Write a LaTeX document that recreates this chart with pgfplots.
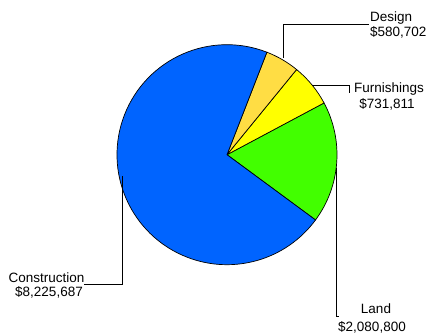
\documentclass[border=0pt]{standalone}
\usepackage{pgfplots}
\pgfplotsset{compat=1.18}
\usepackage{fontspec}
\setmainfont{Liberation Sans}
\definecolor{cConstr}{RGB}{0,100,255}
\definecolor{cLand}{RGB}{66,255,0}
\definecolor{cFurn}{RGB}{255,255,0}
\definecolor{cDesign}{RGB}{255,221,68}
% values
\def\vConstr{8225687}
\def\vLand{2080800}
\def\vFurn{731811}
\def\vDesign{580702}
\edef\vTotal{\fpeval{\vConstr+\vLand+\vFurn+\vDesign}}
\def\aStart{-36.4}
\edef\aA{\fpeval{\aStart+\vLand/\vTotal*360}}
\edef\aB{\fpeval{\aA+\vFurn/\vTotal*360}}
\edef\aC{\fpeval{\aB+\vDesign/\vTotal*360}}
\edef\aD{\fpeval{\aC+\vConstr/\vTotal*360}}
\def\cx{227}
\def\cy{180.3}
\def\R{110}
\newcommand{\pieWedge}[3]{% start, end, colour
  \draw[line width=0.7bp, fill=#3] (axis cs:\cx,\cy) -- (axis cs:{\cx+\R*cos(#1)},{\cy+\R*sin(#1)})
    arc[start angle=#1, end angle=#2, radius=\R bp] -- cycle;}
\begin{document}
\begin{tikzpicture}
\begin{axis}[x=1bp, y=1bp, xmin=0, xmax=428, ymin=0, ymax=335,
  hide axis, clip=false, scale only axis]
\path (axis cs:0,0) rectangle (axis cs:428,335);
\pieWedge{\aStart}{\aA}{cLand}
\pieWedge{\aA}{\aB}{cFurn}
\pieWedge{\aB}{\aC}{cDesign}
\pieWedge{\aC}{\aD}{cConstr}
% leader lines
\draw[line width=0.8bp] (axis cs:283.3,277) -- (axis cs:283.3,311) -- (axis cs:369,311);
\draw[line width=0.8bp] (axis cs:312,249.5) -- (axis cs:349,249.5) -- (axis cs:349,242);
\draw[line width=0.8bp] (axis cs:336.5,167) -- (axis cs:336.5,18.3) -- (axis cs:338.5,18.3);
\draw[line width=0.8bp] (axis cs:122,159) -- (axis cs:122,50.7) -- (axis cs:84,50.7);
% labels
\node[anchor=base west, inner sep=0pt, font=\fontsize{13.5bp}{16bp}\selectfont] at (axis cs:370,313.3) {Design};
\node[anchor=base west, inner sep=0pt, font=\fontsize{13.5bp}{16bp}\selectfont] at (axis cs:370,298.3) {\$580,702};
\node[anchor=base, inner sep=0pt, font=\fontsize{13.5bp}{16bp}\selectfont] at (axis cs:389,242.7) {Furnishings};
\node[anchor=base, inner sep=0pt, font=\fontsize{13.5bp}{16bp}\selectfont] at (axis cs:387,227) {\$731,811};
\node[anchor=base, inner sep=0pt, font=\fontsize{13.5bp}{16bp}\selectfont] at (axis cs:376,22) {Land};
\node[anchor=base, inner sep=0pt, font=\fontsize{13.5bp}{16bp}\selectfont] at (axis cs:372,4) {\$2,080,800};
\node[anchor=base, inner sep=0pt, font=\fontsize{13.5bp}{16bp}\selectfont] at (axis cs:46.5,53) {Construction};
\node[anchor=base, inner sep=0pt, font=\fontsize{13.5bp}{16bp}\selectfont] at (axis cs:49,38.3) {\$8,225,687};
\end{axis}
\end{tikzpicture}
\end{document}
